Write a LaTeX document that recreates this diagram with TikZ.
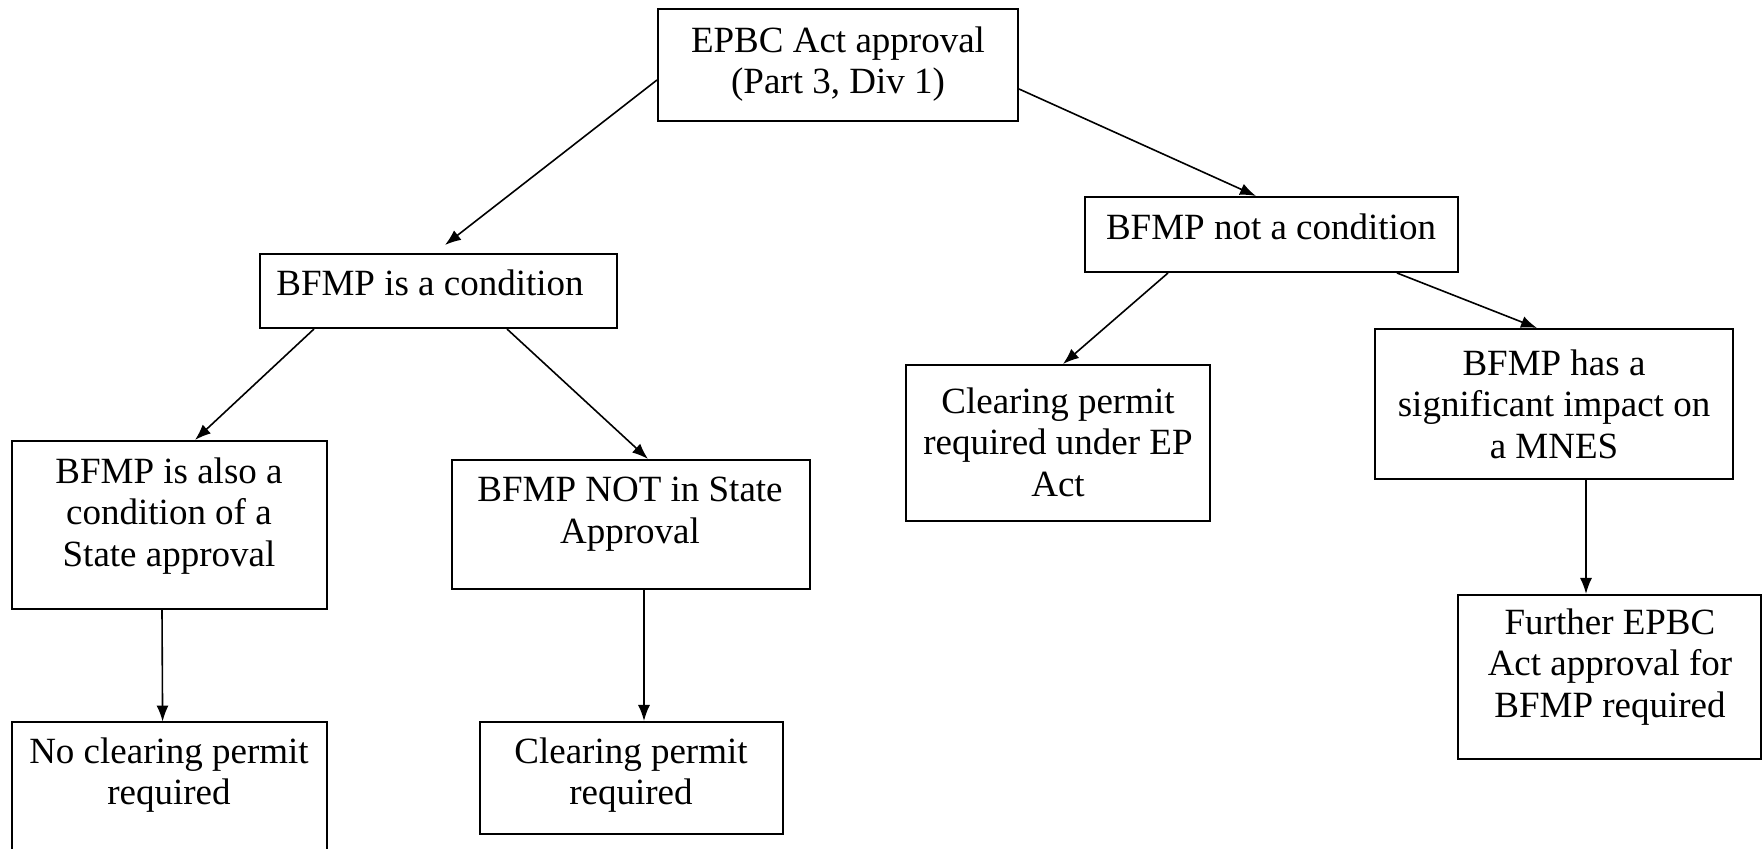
\documentclass[tikz,border=0pt]{standalone}
\usepackage{fontspec}
\setmainfont{Liberation Serif}
\usetikzlibrary{arrows.meta,calc}
\tikzset{
  box/.style={draw, line width=1pt, rectangle, inner sep=0pt},
  openbox/.style={rectangle, inner sep=0pt},
  lbl/.style={align=center, inner sep=0pt, font=\fontsize{18.5}{20.8}\selectfont},
  arr/.style={-{Latex[length=8pt,width=6pt]}, line width=0.8pt}
}
\begin{document}
\begin{tikzpicture}[x=0.5pt,y=-0.5pt]
\useasboundingbox (0,0) rectangle (1763,849);
% boxes
\node[box, minimum width=180pt, minimum height=56pt] (b1) at (838,65) {};
\node[box, minimum width=178.5pt, minimum height=37pt] (b2) at (438.5,291) {};
\node[box, minimum width=186.5pt, minimum height=37.5pt] (b3) at (1271.5,234.5) {};
\node[box, minimum width=157.5pt, minimum height=84pt] (b4) at (169.5,525) {};
\node[box, minimum width=179pt, minimum height=64.5pt] (b5) at (631,524.5) {};
\node[box, minimum width=152pt, minimum height=78pt] (b6) at (1058,443) {};
\node[box, minimum width=179pt, minimum height=75pt] (b7) at (1554,404) {};
\node[box, minimum width=151.5pt, minimum height=82pt] (b8) at (1609.5,677) {};
\node[openbox, minimum width=157.5pt, minimum height=65pt] (b9) at (169.5,787) {};
\draw[line width=1pt] (b9.south west) -- (b9.north west) -- (b9.north east) -- (b9.south east);
\node[box, minimum width=151.5pt, minimum height=56pt] (b10) at (631.5,778) {};
% texts
\node[lbl] (t1) at (838,64) {EPBC Act approval\\(Part 3, Div 1)};
\node[lbl] (t2) at (430,283) {BFMP is a condition};
\node[lbl] (t3) at (1271,227) {BFMP not a condition};
\node[lbl] (t4) at (169,516) {BFMP is also a\\condition of a\\State approval};
\node[lbl] (t5) at (630,514) {BFMP NOT in State\\Approval};
\node[lbl] (t6) at (1058,442) {Clearing permit\\required under EP\\Act};
\node[lbl] (t7) at (1554,404) {BFMP has a\\significant impact on\\a MNES};
\node[lbl] (t8) at (1610,667) {Further EPBC\\Act approval for\\BFMP required};
\node[lbl] (t9) at (169,775) {No clearing permit\\required};
\node[lbl] (t10) at (631,775) {Clearing permit\\required};
% arrows
\draw[arr] ($(b1.north west)+(0,72)$) -- ($(b2.north west)+(186,-8)$);
\draw[arr] ($(b1.north east)+(0,81)$) -- ($(b3.north west)+(172,0)$);
\draw[arr] ($(b2.south west)+(55,0)$) -- ($(b4.north west)+(184,0)$);
\draw[arr] ($(b2.south west)+(248,0)$) -- ($(b5.north west)+(197,0)$);
\draw[arr] ($(b3.south west)+(84,0)$) -- ($(b6.north west)+(158,0)$);
\draw[arr] ($(b3.south west)+(313,0)$) -- ($(b7.north west)+(163,0)$);
\draw[arr] ($(b4.south west)+(151,0)$) -- ($(b9.north west)+(151,0)$);
\draw[arr] ($(b5.south west)+(193,0)$) -- ($(b10.north west)+(165,0)$);
\draw[arr] ($(b7.south west)+(212,0)$) -- ($(b8.north west)+(129,0)$);
\end{tikzpicture}
\end{document}
